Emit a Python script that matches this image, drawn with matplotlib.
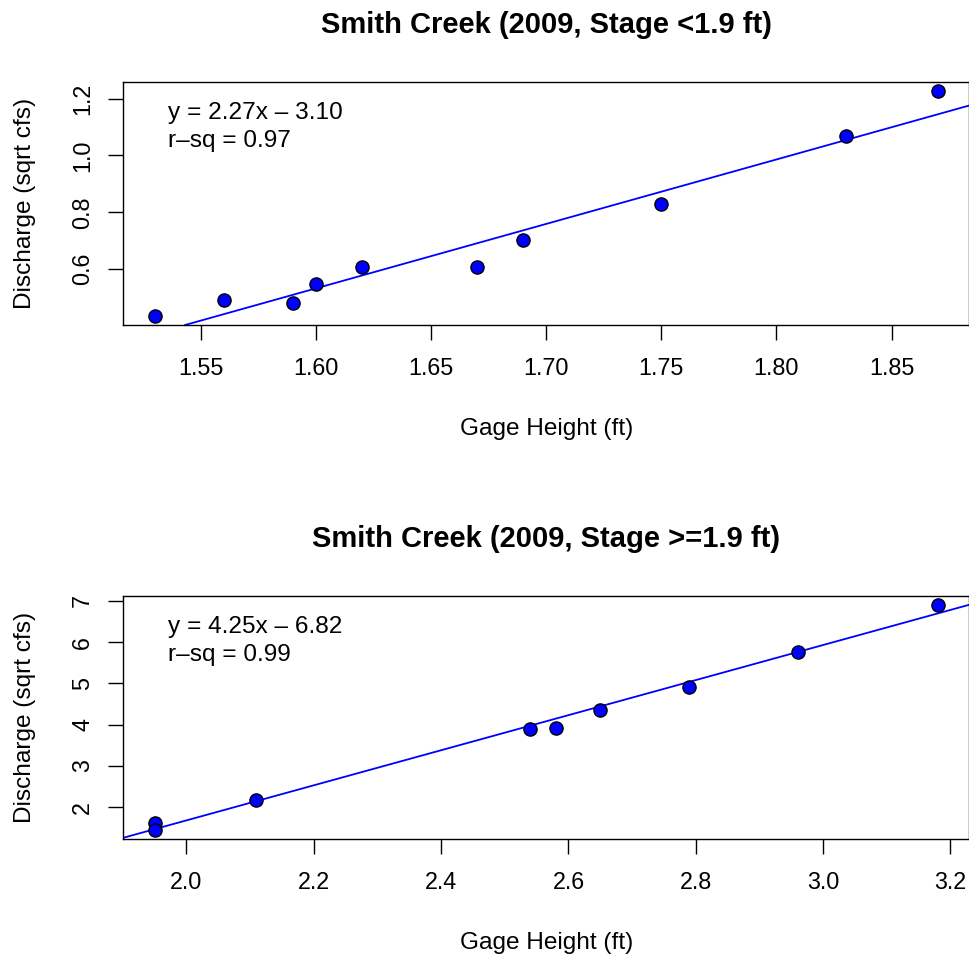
import matplotlib
matplotlib.use("Agg")
import matplotlib.pyplot as plt

plt.rcParams['font.family'] = ['Liberation Sans', 'DejaVu Sans']

# stage < 1.9 ft
low_gage = [1.53, 1.56, 1.59, 1.60, 1.62, 1.67, 1.69, 1.75, 1.83, 1.87]
low_q = [0.435, 0.491, 0.479, 0.547, 0.608, 0.608, 0.701, 0.830, 1.069, 1.228]
low_fit = (2.27, -3.10)
low_rsq = 0.97

# stage >= 1.9 ft
high_gage = [1.95, 1.95, 2.11, 2.54, 2.58, 2.65, 2.79, 2.96, 3.18]
high_q = [1.62, 1.44, 2.17, 3.90, 3.93, 4.36, 4.92, 5.76, 6.90]
high_fit = (4.25, -6.82)
high_rsq = 0.99

low_xticks = [1.55, 1.60, 1.65, 1.70, 1.75, 1.80, 1.85]
low_yticks = [0.6, 0.8, 1.0, 1.2]
high_xticks = [2.0, 2.2, 2.4, 2.6, 2.8, 3.0, 3.2]
high_yticks = [2, 3, 4, 5, 6, 7]


def r_lim(vals):
    # R style 4% padding
    lo, hi = min(vals), max(vals)
    pad = (hi - lo) * 0.04
    return lo - pad, hi + pad


def panel(ax, x, y, fit, rsq, title, xticks, yticks, xfmt, yfmt):
    ax.set_xlim(*r_lim(x))
    ax.set_ylim(*r_lim(y))
    ax.axline((0, fit[1]), slope=fit[0], color='blue', lw=1.3, zorder=2)
    ax.scatter(x, y, s=90, c='blue', edgecolors='black', linewidths=1.0, zorder=3)

    ax.set_xticks(xticks)
    ax.set_xticklabels([xfmt.format(v) for v in xticks])
    ax.set_yticks(yticks)
    ax.set_yticklabels([yfmt.format(v) for v in yticks], rotation=90, va='center')
    ax.tick_params(axis='both', direction='out', length=11, width=1.0,
                   labelsize=16.8, color='black')
    ax.tick_params(axis='x', pad=12)
    ax.tick_params(axis='y', pad=10)
    for s in ax.spines.values():
        s.set_linewidth(1.0)

    sign = '\u2013' if fit[1] < 0 else '+'
    ax.text(0.053, 0.873, 'y = {:.2f}x {} {:.2f}'.format(fit[0], sign, abs(fit[1])),
            transform=ax.transAxes, fontsize=17.6, ha='left', va='center')
    ax.text(0.053, 0.756, 'r\u2013sq = {:.2f}'.format(rsq),
            transform=ax.transAxes, fontsize=17.6, ha='left', va='center')

    ax.annotate(title, xy=(0.5, 1), xycoords='axes fraction', xytext=(0, 41),
                textcoords='offset points', ha='center', va='center',
                fontsize=21, fontweight='bold')
    ax.annotate('Gage Height (ft)', xy=(0.5, 0), xycoords='axes fraction',
                xytext=(0, -75), textcoords='offset points', ha='center',
                va='center', fontsize=17.6)
    ax.annotate('Discharge (sqrt cfs)', xy=(0, 0.5), xycoords='axes fraction',
                xytext=(-71, 0), textcoords='offset points', ha='center',
                va='center', rotation=90, fontsize=17.6)


fig = plt.figure(figsize=(9.7, 9.58), dpi=100)
ax1 = fig.add_axes([0.1271, 0.6608, 0.999 - 0.1271, 0.9147 - 0.6608])
ax2 = fig.add_axes([0.1271, 0.1239, 0.999 - 0.1271, 0.3779 - 0.1239])

panel(ax1, low_gage, low_q, low_fit, low_rsq, 'Smith Creek (2009, Stage <1.9 ft)',
      low_xticks, low_yticks, '{:.2f}', '{:.1f}')
panel(ax2, high_gage, high_q, high_fit, high_rsq, 'Smith Creek (2009, Stage >=1.9 ft)',
      high_xticks, high_yticks, '{:.1f}', '{:d}')

fig.savefig('out.png', dpi=100)
